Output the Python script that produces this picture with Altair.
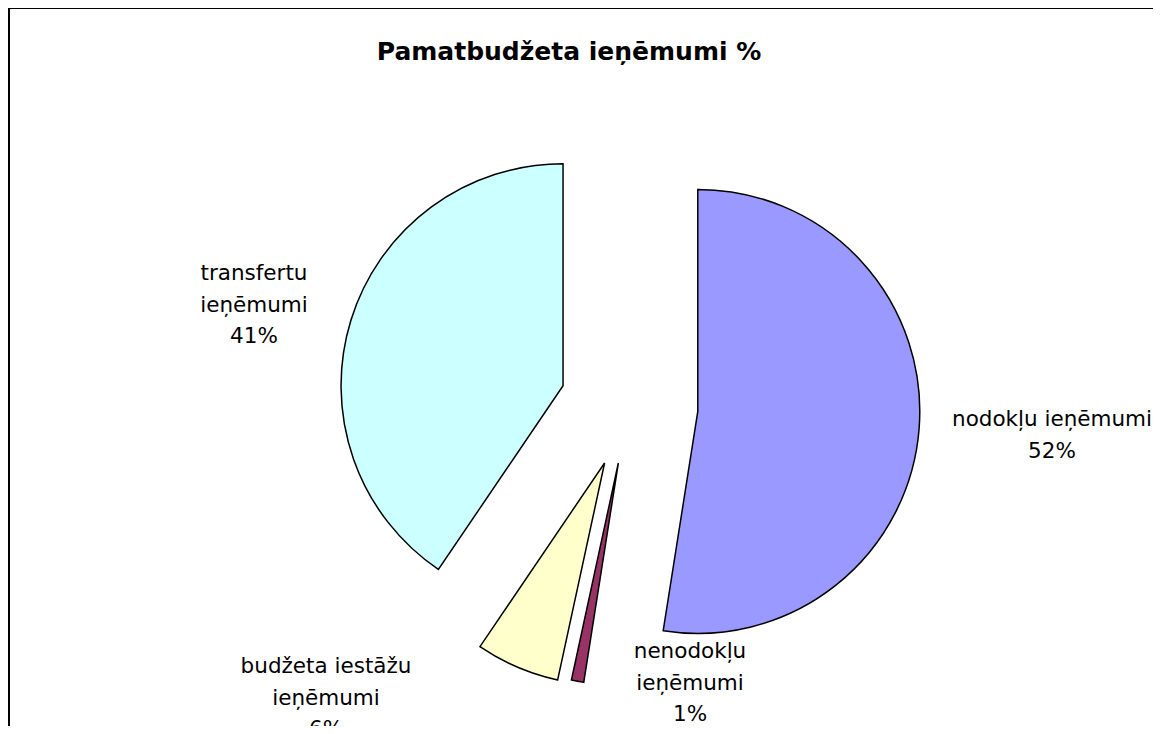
import math
import altair as alt
import pandas as pd

# ---- data ----
categories = ["nodokļu ieņēmumi", "nenodokļu ieņēmumi", "budžeta iestāžu ieņēmumi", "transfertu ieņēmumi"]
shares = [52.49, 0.9, 6.1, 40.51]
label_texts = ["nodokļu ieņēmumi\n52%", "nenodokļu\nieņēmumi\n1%", "budžeta iestāžu\nieņēmumi\n6%", "transfertu\nieņēmumi\n41%"]
colors = ["#9999FF", "#993366", "#FFFFCC", "#CCFFFF"]
title_text = "Pamatbudžeta ieņēmumi %"

# ---- layout (pixels, chart coordinates) ----
W, H = 1145, 718
CX, CY = 621, 398
R = 222
explode = [69, 58, 62, 69]
label_x = [1044, 682, 318, 246]
label_y = [418, 650, 665, 272]

total = sum(shares)
df = pd.DataFrame({"cat": categories, "share": shares, "order": list(range(len(categories))), "expl": explode})

pie = alt.Chart(df).transform_window(
    cum_end="sum(share)", sort=[alt.SortField("order")], frame=[None, 0]
).transform_calculate(
    cum_start="datum.cum_end - datum.share",
    mid=f"PI * (datum.cum_start + datum.cum_end) / {total}",
    ex=f"{CX} + datum.expl * sin(datum.mid)",
    ey=f"{CY} - datum.expl * cos(datum.mid)",
).mark_arc(outerRadius=R, stroke="black", strokeWidth=1.5).encode(
    theta=alt.Theta("cum_start:Q", stack=False, scale=alt.Scale(domain=[0, total], range=[0, 2 * math.pi])),
    theta2="cum_end:Q",
    x=alt.X("ex:Q", scale=None, axis=None),
    y=alt.Y("ey:Q", scale=None, axis=None),
    color=alt.Color("cat:N", scale=alt.Scale(domain=categories, range=colors), legend=None),
)

ldf = pd.DataFrame({"txt": label_texts, "lx": label_x, "ly": label_y})
labels = alt.Chart(ldf).mark_text(
    font="DejaVu Sans", fontSize=21.5, lineBreak="\n", lineHeight=31.5,
    align="center", baseline="alphabetic", color="black"
).encode(
    x=alt.X("lx:Q", scale=None, axis=None),
    y=alt.Y("ly:Q", scale=None, axis=None),
    text="txt:N",
)

title = alt.Chart(pd.DataFrame({"t": [title_text]})).mark_text(
    font="DejaVu Sans", fontSize=25, fontWeight="bold", align="center", baseline="alphabetic", color="black"
).encode(x=alt.value(561), y=alt.value(52), text="t:N")

one = pd.DataFrame({"a": [0]})
frame_top = alt.Chart(one).mark_rule(color="black", strokeWidth=2).encode(
    x=alt.value(0), x2=alt.value(W), y=alt.value(0))
frame_left = alt.Chart(one).mark_rule(color="black", strokeWidth=2).encode(
    x=alt.value(1), y=alt.value(0), y2=alt.value(H))

chart = alt.layer(pie, labels, title, frame_top, frame_left).properties(
    width=W, height=H, autosize=alt.AutoSizeParams(type="none"), padding=0, background="white"
).configure_view(stroke="transparent")

chart.save("out.html", embed_options={"renderer": "svg", "actions": False})
